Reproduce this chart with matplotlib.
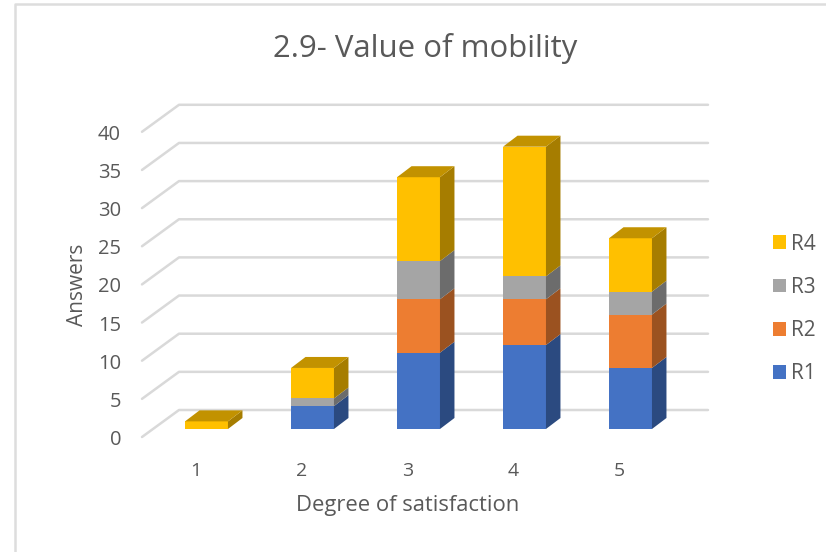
import matplotlib
matplotlib.use('Agg')
import matplotlib.pyplot as plt
from matplotlib.patches import Patch, Polygon

categories = [1, 2, 3, 4, 5]
R1 = [0, 3, 10, 11, 8]
R2 = [0, 0, 7, 6, 7]
R3 = [0, 1, 5, 3, 3]
R4 = [1, 4, 11, 17, 7]
series_names = ['R1', 'R2', 'R3', 'R4']
y_ticks = [0, 5, 10, 15, 20, 25, 30, 35, 40]

front_colors = ['#4472C4', '#ED7D31', '#A5A5A5', '#FFC000']
side_colors = ['#2B4A80', '#9B5220', '#6C6C6C', '#A67D00']
top_colors = ['#3A62A8', '#C96A2A', '#8C8C8C', '#C29200']

# pixel scale of the bar plane
PX_X = 106.0
PX_Y = 7.63
WIDTH = 0.405
DEPTH_X = 14.5 / PX_X
DEPTH_Y = 11 / PX_Y


def px(x):
    return 1 + (x - 206.5) / PX_X


def py(y):
    return (429 - y) / PX_Y


plt.rcParams['font.family'] = ['Open Sans', 'DejaVu Sans']
fig = plt.figure(figsize=(8.26, 5.52), dpi=100)
ax = fig.add_axes([0, 0, 1, 1])
ax.set_xlim(px(0), px(826))
ax.set_ylim(py(552), py(0))
ax.axis('off')

# gridlines on side wall and back wall
for v in y_ticks:
    xs = [px(142), px(179), px(708)]
    ys = [py(437) + v, py(410) + v, py(410) + v]
    ax.plot(xs, ys, color='#D9D9D9', lw=1.8, zorder=1, solid_capstyle='round')
    ax.text(px(121), py(440) + v, str(v), ha='right', va='center', fontsize=14.5, color='#595959')

# stacked boxes
bottoms = [0] * len(categories)
all_series = [R1, R2, R3, R4]
for s, values in enumerate(all_series):
    for i, cat in enumerate(categories):
        v = values[i]
        if v == 0:
            continue
        left = cat - WIDTH / 2
        right = cat + WIDTH / 2
        b = bottoms[i]
        ax.bar(cat, v, WIDTH, bottom=b, color=front_colors[s], zorder=3)
        ax.add_patch(Polygon([(right, b), (right + DEPTH_X, b + DEPTH_Y),
                              (right + DEPTH_X, b + v + DEPTH_Y), (right, b + v)],
                             facecolor=side_colors[s], edgecolor='none', zorder=3))
        if s == len(all_series) - 1:
            ax.add_patch(Polygon([(left, b + v), (left + DEPTH_X, b + v + DEPTH_Y),
                                  (right + DEPTH_X, b + v + DEPTH_Y), (right, b + v)],
                                 facecolor=top_colors[s], edgecolor='none', zorder=3))
        bottoms[i] += v

for cat in categories:
    ax.text(cat - 0.105, py(471), str(cat), ha='center', va='center', fontsize=14, color='#595959')

ax.text(px(425), py(48.5), '2.9- Value of mobility', ha='center', va='center', fontsize=22.4, color='#595959')
ax.text(px(407.5), py(506), 'Degree of satisfaction', ha='center', va='center', fontsize=15.8, color='#595959')
ax.text(px(77), py(285), 'Answers', ha='center', va='center', rotation=90, fontsize=15, color='#595959')

# chart border
ax.plot([px(14.5), px(14.5), px(826)], [py(552), py(4), py(4)], color='#DDDDDD', lw=1.8)

handles = [Patch(facecolor=front_colors[s], label=series_names[s]) for s in range(3, -1, -1)]
ax.legend(handles=handles, loc='center left', bbox_to_anchor=(px(773), py(309)),
          bbox_transform=ax.transData, frameon=False, fontsize=15, labelcolor='#595959',
          handlelength=0.63, handleheight=0.63, handletextpad=0.24, labelspacing=1.07,
          borderpad=0, borderaxespad=0)

fig.savefig('out.png', dpi=100)
